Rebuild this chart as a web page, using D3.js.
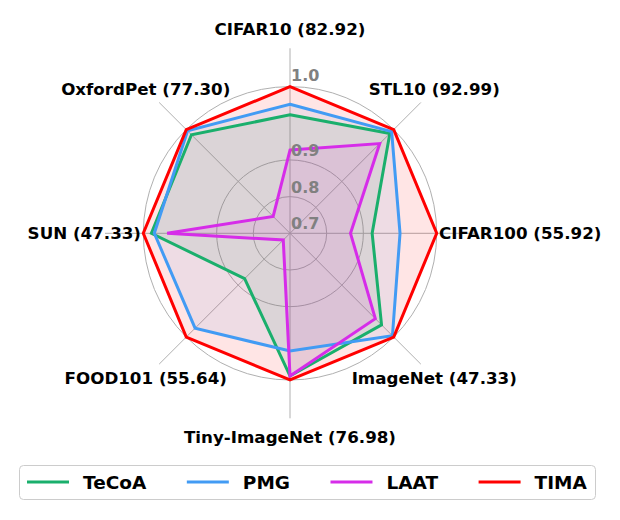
<!DOCTYPE html>
<meta charset="utf-8">
<script src="https://d3js.org/d3.v7.min.js"></script>
<style>
  body { margin: 0; background: #fff; }
  text { font-family: "DejaVu Sans", sans-serif; font-weight: bold; }
</style>
<div id="my_dataviz"></div>
<script>

// axes (clockwise from the top) and series values, normalised to the best
var axes = ["CIFAR10 (82.92)", "STL10 (92.99)", "CIFAR100 (55.92)", "ImageNet (47.33)",
            "Tiny-ImageNet (76.98)", "FOOD101 (55.64)", "SUN (47.33)", "OxfordPet (77.30)"];
var seriesNames = ["TeCoA", "PMG", "LAAT", "TIMA"];
var seriesColors = ["#1aaf6c", "#429bf4", "#d62ce9", "#ff0000"];
var tecoa = [0.923, 0.985, 0.824, 0.953, 0.989, 0.775, 0.978, 0.980];
var pmg   = [0.952, 0.992, 0.900, 0.995, 0.921, 0.966, 0.970, 0.995];
var laat  = [0.827, 0.946, 0.765, 0.929, 0.989, 0.626, 0.935, 0.665];
var tima  = [1.0, 1.0, 1.0, 1.0, 1.0, 1.0, 1.0, 1.0];
var gridValues = [0.7, 0.8];
var tickValues = [0.7, 0.8, 0.9, 1.0];
var tickLabels = ["0.7", "0.8", "0.9", "1.0"];

var allSeries = [tecoa, pmg, laat, tima];

var width = 620, height = 520,
    cx = 290, cy = 233.3,
    R = 146.7;

var svg = d3.select("#my_dataviz")
  .append("svg")
    .attr("width", width)
    .attr("height", height);

var g = svg.append("g")
    .attr("transform", "translate(" + cx + "," + cy + ")");

var r = d3.scaleLinear().domain([0.6, 1.0]).range([0, R]);
var angle = d3.scalePoint().domain(axes).range([0, 2 * Math.PI * 7 / 8]);

function px(a, rad) { return Math.sin(a) * rad; }
function py(a, rad) { return -Math.cos(a) * rad; }

// grid circles + outer spine
g.selectAll(".grid")
  .data(gridValues.concat([1.0]))
  .enter()
  .append("circle")
    .attr("r", function(d) { return r(d); })
    .style("fill", "none")
    .style("stroke", "#b0b0b0")
    .style("stroke-width", 1);

// spokes
g.selectAll(".spoke")
  .data(axes)
  .enter()
  .append("line")
    .attr("x1", 0).attr("y1", 0)
    .attr("x2", function(d) { return px(angle(d), 185); })
    .attr("y2", function(d) { return py(angle(d), 185); })
    .style("stroke", "#b0b0b0")
    .style("stroke-width", 1);

// polygons
var radial = d3.lineRadial()
    .angle(function(d, i) { return angle(axes[i]); })
    .radius(function(d) { return r(d); })
    .curve(d3.curveLinearClosed);

allSeries.forEach(function(vals, k) {
  g.append("path")
    .attr("d", radial(vals))
    .style("fill", seriesColors[k])
    .style("fill-opacity", 0.1)
    .style("stroke", "none");
});
allSeries.forEach(function(vals, k) {
  g.append("path")
    .attr("d", radial(vals))
    .style("fill", "none")
    .style("stroke", seriesColors[k])
    .style("stroke-width", 3)
    .style("stroke-linejoin", "miter");
});

// radial tick labels
g.selectAll(".rtick")
  .data(tickValues)
  .enter()
  .append("text")
    .attr("x", 1)
    .attr("y", function(d, i) { return i < 3 ? -(r(d - 0.1) + 4) : -(r(d) + 6); })
    .style("font-size", "16px")
    .style("fill", "#808080")
    .text(function(d, i) { return tickLabels[i]; });

// axis labels
g.selectAll(".alabel")
  .data(axes)
  .enter()
  .append("text")
    .attr("x", function(d) {
      var a = angle(d);
      if (Math.abs(Math.sin(a)) > 0.99) return Math.sign(Math.sin(a)) * 149;
      return px(a, 204);
    })
    .attr("y", function(d) {
      var a = angle(d);
      if (Math.abs(Math.sin(a)) > 0.99) return 6;
      return py(a, 204) + 6;
    })
    .attr("text-anchor", function(d) {
      var s = Math.sin(angle(d));
      if (s > 0.99) return "start";
      if (s < -0.99) return "end";
      return "middle";
    })
    .style("font-size", "16.7px")
    .style("fill", "#000")
    .text(function(d) { return d; });

// legend, laid out like matplotlib: handle, gap, label, column spacing
var legend = svg.append("g");
legend.append("rect")
    .attr("x", 19.5).attr("y", 465.5)
    .attr("width", 576).attr("height", 34)
    .attr("rx", 4)
    .style("fill", "#fff")
    .style("stroke", "#cccccc")
    .style("stroke-width", 1);

var lx = 27;
seriesNames.forEach(function(name, i) {
  var it = legend.append("g").attr("transform", "translate(" + lx + ",482)");
  it.append("line")
      .attr("x1", 0).attr("x2", 42)
      .style("stroke", seriesColors[i])
      .style("stroke-width", 3);
  var t = it.append("text")
      .attr("x", 56)
      .attr("y", 6.5)
      .style("font-size", "18.5px")
      .text(name);
  lx += 56 + t.node().getComputedTextLength() + 40.5;
});

</script>
